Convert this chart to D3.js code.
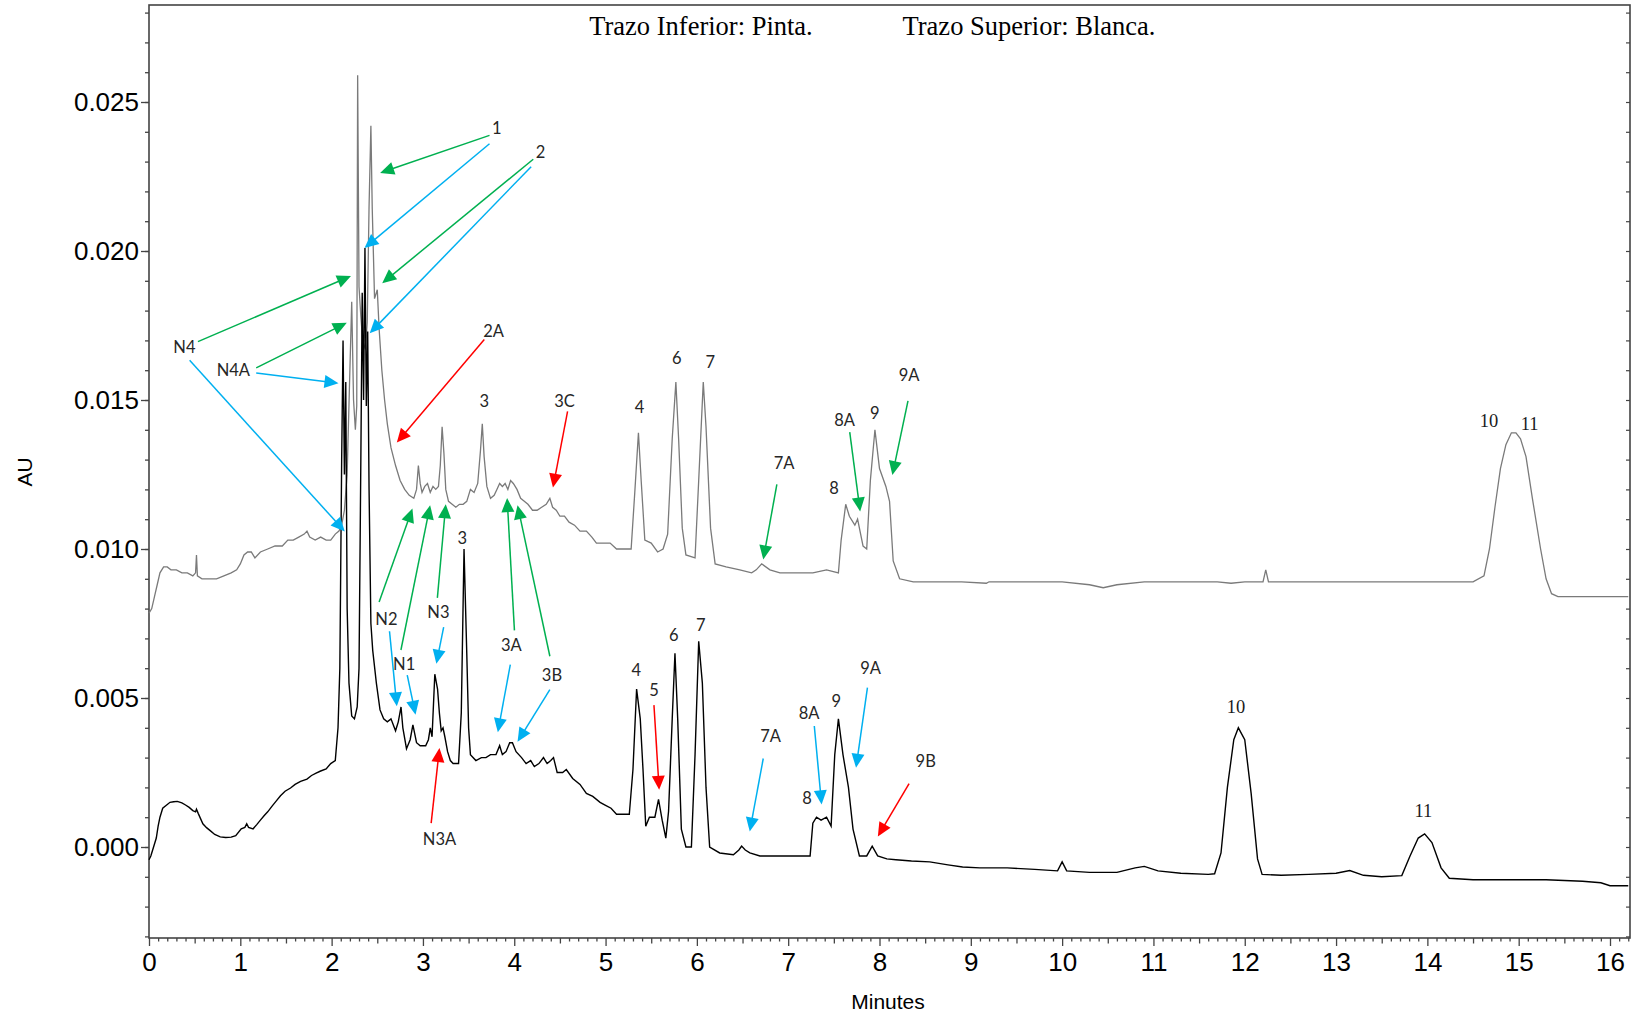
<!DOCTYPE html>
<html>
<head>
<meta charset="utf-8">
<script src="https://cdn.jsdelivr.net/npm/d3@7"></script>
<style>
  html, body { margin: 0; padding: 0; background: #fff; }
  svg { display: block; }
</style>
</head>
<body>
<svg id="chart" width="1633" height="1014"></svg>
<script>
// Upper trace (Blanca): [minutes, AU]
const blancaTrace = [
  [0.00,0.00785],[0.03,0.0080],[0.06,0.0084],[0.09,0.0088],[0.12,0.0092],[0.16,0.0094],[0.20,0.0094],
  [0.24,0.0093],[0.30,0.0093],[0.36,0.0092],[0.42,0.0092],[0.48,0.0091],[0.51,0.0092],[0.52,0.0098],
  [0.53,0.0091],[0.58,0.0090],[0.66,0.0090],[0.74,0.0090],[0.82,0.0091],[0.90,0.0092],[0.96,0.0093],
  [1.00,0.0095],[1.04,0.0098],[1.08,0.0099],[1.12,0.0099],[1.16,0.0097],[1.22,0.0099],[1.30,0.0100],
  [1.38,0.0101],[1.46,0.0101],[1.52,0.0103],[1.58,0.0103],[1.64,0.0104],[1.70,0.0105],[1.73,0.0106],
  [1.76,0.0104],[1.82,0.0103],[1.88,0.0104],[1.94,0.0103],[1.99,0.0103],[2.04,0.0105],[2.08,0.0106],
  [2.11,0.0108],[2.14,0.0113],[2.17,0.0125],[2.20,0.0160],[2.22,0.0183],[2.24,0.0150],[2.26,0.0140],
  [2.275,0.0148],[2.285,0.0259],[2.30,0.0188],[2.32,0.0178],[2.34,0.0170],[2.37,0.0167],[2.39,0.0176],
  [2.41,0.0215],[2.43,0.0242],[2.445,0.0214],[2.47,0.0184],[2.50,0.0187],[2.52,0.0174],[2.55,0.0160],
  [2.58,0.0150],[2.61,0.0142],[2.65,0.0134],[2.70,0.0128],[2.75,0.0123],[2.80,0.0120],[2.85,0.0118],
  [2.90,0.0117],[2.93,0.0120],[2.95,0.0128],[2.97,0.0122],[2.99,0.0119],[3.02,0.0121],[3.05,0.0122],
  [3.08,0.0119],[3.11,0.0121],[3.14,0.0120],[3.17,0.0121],[3.19,0.0128],[3.21,0.0141],[3.23,0.0132],
  [3.25,0.0120],[3.28,0.0116],[3.32,0.0115],[3.36,0.0114],[3.40,0.0115],[3.44,0.0115],[3.48,0.0116],
  [3.52,0.0120],[3.56,0.0119],[3.60,0.0122],[3.63,0.0133],[3.65,0.0142],[3.67,0.0131],[3.70,0.0121],
  [3.74,0.0117],[3.78,0.0118],[3.81,0.0120],[3.84,0.0122],[3.87,0.0121],[3.90,0.0122],[3.93,0.0120],
  [3.96,0.0123],[3.99,0.0122],[4.03,0.0120],[4.07,0.0117],[4.11,0.0116],[4.15,0.0115],[4.20,0.0113],
  [4.25,0.0113],[4.30,0.0114],[4.35,0.0115],[4.39,0.0117],[4.42,0.0114],[4.46,0.0113],[4.50,0.0111],
  [4.55,0.0111],[4.60,0.0109],[4.66,0.0108],[4.72,0.0106],[4.79,0.0106],[4.85,0.0104],[4.90,0.0102],
  [4.98,0.0102],[5.05,0.0102],[5.12,0.0100],[5.20,0.0100],[5.28,0.0100],[5.32,0.0119],[5.36,0.0139],
  [5.39,0.0123],[5.43,0.0103],[5.50,0.0102],[5.57,0.0099],[5.63,0.0100],[5.68,0.0105],[5.73,0.0137],
  [5.77,0.0156],[5.80,0.0137],[5.84,0.0107],[5.88,0.0098],[5.98,0.0097],[6.02,0.0123],[6.07,0.0156],
  [6.10,0.0141],[6.15,0.0107],[6.20,0.0095],[6.32,0.0094],[6.47,0.0093],[6.60,0.0092],[6.65,0.0093],
  [6.71,0.0095],[6.80,0.0093],[6.91,0.0092],[7.09,0.0092],[7.27,0.0092],[7.42,0.0093],[7.55,0.0092],
  [7.58,0.0103],[7.63,0.0115],[7.67,0.0111],[7.73,0.0108],[7.76,0.0110],[7.82,0.0101],[7.86,0.0100],
  [7.90,0.0123],[7.95,0.0140],[8.00,0.0127],[8.07,0.0121],[8.11,0.0116],[8.15,0.0096],[8.22,0.0090],
  [8.37,0.0089],[8.60,0.0089],[8.90,0.0089],[9.17,0.00885],[9.20,0.0089],[9.60,0.0089],[10.00,0.0089],
  [10.30,0.0088],[10.45,0.0087],[10.60,0.0088],[10.90,0.0089],[11.30,0.0089],[11.70,0.0089],[11.85,0.00885],
  [12.00,0.0089],[12.20,0.0089],[12.23,0.0093],[12.26,0.0089],[12.50,0.0089],[12.90,0.0089],[13.30,0.0089],
  [13.70,0.0089],[14.00,0.0089],[14.30,0.0089],[14.50,0.0089],[14.62,0.0091],[14.68,0.0100],[14.74,0.0114],
  [14.80,0.0127],[14.86,0.0135],[14.92,0.0139],[14.97,0.0139],[15.02,0.0137],[15.08,0.0131],[15.15,0.0117],
  [15.24,0.0100],[15.30,0.0090],[15.36,0.0085],[15.43,0.0084],[15.60,0.0084],[15.80,0.0084],[16.00,0.0084],
  [16.20,0.0084]
];

// Lower trace (Pinta): [minutes, AU]
const pintaTrace = [
  [0.00,-0.00043],[0.02,-0.0003],[0.04,-0.0001],[0.06,0.0001],[0.08,0.0003],[0.10,0.0007],[0.12,0.0010],
  [0.15,0.0013],[0.19,0.0014],[0.23,0.0015],[0.27,0.00152],[0.31,0.00153],[0.36,0.00148],[0.40,0.00141],
  [0.44,0.00133],[0.48,0.00122],[0.51,0.00118],[0.52,0.00127],[0.54,0.00112],[0.59,0.00078],[0.63,0.00065],
  [0.67,0.00055],[0.72,0.00042],[0.78,0.00034],[0.84,0.00032],[0.90,0.00033],[0.95,0.00038],[1.01,0.00061],
  [1.05,0.00066],[1.07,0.00078],[1.09,0.00066],[1.14,0.00061],[1.18,0.00075],[1.22,0.0009],[1.26,0.00105],
  [1.30,0.00118],[1.35,0.00138],[1.39,0.00153],[1.44,0.00172],[1.49,0.00187],[1.55,0.00198],[1.60,0.0021],
  [1.66,0.0022],[1.73,0.00228],[1.78,0.0024],[1.83,0.00248],[1.88,0.00255],[1.94,0.00262],[1.99,0.0028],
  [2.04,0.0029],[2.07,0.0040],[2.09,0.0060],[2.11,0.0130],[2.125,0.0170],[2.14,0.0125],[2.155,0.0156],
  [2.17,0.0080],[2.19,0.0055],[2.22,0.0044],[2.25,0.0043],[2.28,0.0047],[2.30,0.0060],[2.32,0.0130],
  [2.335,0.0186],[2.35,0.0150],[2.365,0.0201],[2.38,0.0148],[2.395,0.0173],[2.41,0.0120],[2.43,0.0075],
  [2.45,0.0066],[2.49,0.0055],[2.53,0.0046],[2.57,0.0043],[2.61,0.0042],[2.65,0.0043],[2.70,0.0039],
  [2.73,0.0042],[2.76,0.0047],[2.78,0.0040],[2.82,0.0033],[2.86,0.0036],[2.89,0.0041],[2.93,0.0035],
  [2.97,0.0034],[3.03,0.0034],[3.06,0.0036],[3.08,0.0040],[3.10,0.0037],[3.13,0.0058],[3.16,0.0053],
  [3.18,0.0045],[3.20,0.0039],[3.22,0.0040],[3.24,0.0037],[3.27,0.0032],[3.30,0.0029],[3.33,0.0028],
  [3.39,0.0028],[3.42,0.0045],[3.45,0.0100],[3.48,0.0065],[3.50,0.0040],[3.52,0.0031],[3.58,0.0029],
  [3.64,0.0030],[3.69,0.0030],[3.74,0.0031],[3.80,0.0031],[3.84,0.0034],[3.87,0.0031],[3.91,0.0032],
  [3.95,0.0035],[3.98,0.0035],[4.02,0.0032],[4.08,0.0030],[4.13,0.0028],[4.18,0.0029],[4.22,0.0027],
  [4.27,0.0028],[4.32,0.0030],[4.36,0.0028],[4.40,0.0029],[4.43,0.0030],[4.47,0.0025],[4.53,0.0025],
  [4.57,0.0026],[4.64,0.0023],[4.72,0.0021],[4.79,0.0018],[4.86,0.0017],[4.94,0.0015],[5.00,0.0014],
  [5.06,0.0013],[5.12,0.0011],[5.20,0.0011],[5.26,0.0011],[5.30,0.0026],[5.34,0.0053],[5.38,0.0043],
  [5.41,0.0026],[5.44,0.0007],[5.48,0.0010],[5.54,0.0010],[5.58,0.0016],[5.62,0.0009],[5.66,0.0003],
  [5.69,0.0012],[5.73,0.0043],[5.76,0.0065],[5.79,0.0043],[5.83,0.0006],[5.88,0.0000],[5.94,0.0000],
  [5.98,0.0031],[6.02,0.0069],[6.06,0.0055],[6.10,0.0020],[6.14,0.0000],[6.25,-0.0002],[6.40,-0.00026],
  [6.46,-0.0001],[6.49,0.00003],[6.53,-0.0001],[6.58,-0.0002],[6.69,-0.0003],[6.80,-0.0003],[6.91,-0.0003],
  [7.05,-0.0003],[7.15,-0.0003],[7.24,-0.0003],[7.27,0.0008],[7.31,0.0010],[7.36,0.0009],[7.42,0.0010],
  [7.47,0.0007],[7.51,0.0031],[7.55,0.0043],[7.60,0.0031],[7.66,0.0020],[7.71,0.0006],[7.78,-0.0003],
  [7.86,-0.0003],[7.92,0.00003],[7.98,-0.0003],[8.08,-0.0004],[8.18,-0.00043],[8.35,-0.00047],[8.55,-0.0005],
  [8.75,-0.0006],[8.91,-0.00067],[9.10,-0.0007],[9.40,-0.0007],[9.70,-0.00075],[9.95,-0.0008],[10.00,-0.0005],
  [10.05,-0.0008],[10.30,-0.00085],[10.60,-0.00085],[10.80,-0.0007],[10.90,-0.00065],[11.05,-0.0008],
  [11.30,-0.00088],[11.60,-0.00092],[11.67,-0.0009],[11.74,-0.0002],[11.81,0.0020],[11.88,0.0036],
  [11.93,0.0040],[12.00,0.0036],[12.07,0.0018],[12.14,-0.0004],[12.19,-0.00092],[12.40,-0.00095],
  [12.70,-0.00092],[13.00,-0.00088],[13.15,-0.00079],[13.30,-0.00095],[13.50,-0.0010],[13.72,-0.00096],
  [13.81,-0.0003],[13.90,0.0003],[13.97,0.00044],[14.05,0.00015],[14.15,-0.0007],[14.24,-0.00105],
  [14.50,-0.0011],[14.90,-0.0011],[15.30,-0.0011],[15.70,-0.00115],[15.90,-0.0012],[16.00,-0.0013],[16.20,-0.0013]
];

const yTickValues = [0.000, 0.005, 0.010, 0.015, 0.020, 0.025];
const xTickValues = d3.range(0, 17, 1);
const titleTexts = ["Trazo Inferior: Pinta.", "Trazo Superior: Blanca."];

// Peak labels: [text, minutes, AU]
const peakLabels = [
  ["1", 3.808, 0.02413], ["2", 4.287, 0.02332], ["N4", 0.388, 0.01678], ["N4A", 0.924, 0.01601],
  ["2A", 3.774, 0.01731], ["3", 3.672, 0.01497], ["3C", 4.550, 0.01497], ["4", 5.371, 0.01476],
  ["6", 5.781, 0.01640], ["7", 6.146, 0.01629], ["7A", 6.956, 0.01290], ["8A", 7.617, 0.01434],
  ["8", 7.503, 0.01206], ["9", 7.948, 0.01455], ["9A", 8.324, 0.01584],
  ["3", 3.432, 0.01038], ["N2", 2.600, 0.00766], ["N1", 2.794, 0.00615], ["N3", 3.170, 0.00787],
  ["N3A", 3.181, 0.00028], ["3A", 3.968, 0.00678], ["3B", 4.413, 0.00577], ["4", 5.336, 0.00594],
  ["5", 5.530, 0.00528], ["6", 5.747, 0.00713], ["7", 6.043, 0.00745], ["7A", 6.807, 0.00371],
  ["8A", 7.229, 0.00451], ["8", 7.206, 0.00164], ["9", 7.526, 0.00490], ["9A", 7.902, 0.00601],
  ["9B", 8.506, 0.00287]
];
// Serif peak labels (10, 11)
const serifLabels = [
  ["10", 14.675, 0.01430], ["11", 15.120, 0.01420], ["10", 11.904, 0.00469], ["11", 13.957, 0.00122]
];

// Arrows: [colour key, fromMin, fromAU, toMin, toAU]
const arrows = [
  ["g", 3.729, 0.02388, 2.531, 0.02262], ["c", 3.729, 0.02360, 2.360, 0.02010],
  ["g", 4.208, 0.02308, 2.554, 0.01892], ["c", 4.185, 0.02283, 2.417, 0.01724],
  ["g", 0.536, 0.01696, 2.212, 0.01916], ["c", 0.445, 0.01633, 2.144, 0.01059],
  ["g", 1.174, 0.01608, 2.166, 0.01759], ["c", 1.174, 0.01591, 2.075, 0.01556],
  ["r", 3.672, 0.01703, 2.714, 0.01357],
  ["r", 4.584, 0.01462, 4.424, 0.01206],
  ["g", 6.876, 0.01217, 6.727, 0.00965],
  ["g", 7.674, 0.01392, 7.788, 0.01126],
  ["g", 8.312, 0.01497, 8.141, 0.01248],
  ["g", 2.520, 0.00822, 2.885, 0.01136], ["c", 2.634, 0.00724, 2.714, 0.00472],
  ["g", 2.759, 0.00661, 3.079, 0.01147], ["c", 2.828, 0.00577, 2.919, 0.00444],
  ["g", 3.158, 0.00836, 3.250, 0.01150], ["c", 3.227, 0.00738, 3.147, 0.00615],
  ["r", 3.090, 0.00080, 3.181, 0.00332],
  ["g", 4.002, 0.00727, 3.922, 0.01171], ["c", 3.957, 0.00612, 3.820, 0.00385],
  ["g", 4.390, 0.00640, 4.036, 0.01147], ["c", 4.390, 0.00528, 4.036, 0.00353],
  ["r", 5.530, 0.00476, 5.587, 0.00192],
  ["c", 6.727, 0.00297, 6.579, 0.00052],
  ["c", 7.286, 0.00406, 7.366, 0.00143],
  ["c", 7.868, 0.00535, 7.743, 0.00266],
  ["r", 8.324, 0.00213, 7.982, 0.00035]
];

const arrowColours = { g: "#00b050", c: "#00b0f0", r: "#ff0000" };

const svg = d3.select("#chart");
const plotLeft = 149, plotRight = 1630, plotTop = 5, plotBottom = 938;

const x = d3.scaleLinear().domain([0, 16]).range([149, 1610]);
const y = d3.scaleLinear().domain([0, 0.025]).range([847, 102]);

const xMax = x.invert(plotRight);
const yMin = y.invert(plotBottom);
const yMax = y.invert(plotTop);

// Frame
svg.append("rect")
  .attr("x", plotLeft).attr("y", plotTop)
  .attr("width", plotRight - plotLeft).attr("height", plotBottom - plotTop)
  .attr("fill", "none").attr("stroke", "#444").attr("stroke-width", 1.6);

// Y axis: minor ticks every 0.001, labelled ticks every 0.005
const yMinor = d3.range(Math.ceil(yMin * 1000), Math.floor(yMax * 1000) + 1).map(v => v / 1000);
const yAxisG = svg.append("g").attr("transform", `translate(${plotLeft},0)`);
yAxisG.call(d3.axisLeft(y).tickValues(yMinor).tickSize(4).tickFormat(""))
  .call(g => g.select(".domain").remove());
yAxisG.append("g").call(d3.axisLeft(y).tickValues(yTickValues).tickSize(8).tickPadding(2).tickFormat(d3.format(".3f")))
  .call(g => g.select(".domain").remove())
  .call(g => g.selectAll("text").attr("font-family", "Liberation Sans, Arial, sans-serif")
    .attr("font-size", 26).attr("fill", "#000"));
yAxisG.selectAll("line").attr("stroke", "#444").attr("stroke-width", 1.3);

// Inward ticks on the right border
const rightG = svg.append("g").attr("transform", `translate(${plotRight},0)`);
rightG.call(d3.axisLeft(y).tickValues(yMinor).tickSize(4).tickFormat(""))
  .call(g => g.select(".domain").remove());
rightG.selectAll("line").attr("stroke", "#444").attr("stroke-width", 1.2);

// X axis: integer, half and tenth minute ticks
const xMinor = d3.range(0, Math.floor(xMax * 10) + 1).map(v => v / 10);
const isHalf = v => Math.abs(v * 2 - Math.round(v * 2)) < 1e-6;
const isWhole = v => Math.abs(v - Math.round(v)) < 1e-6;
const xAxisG = svg.append("g").attr("transform", `translate(0,${plotBottom})`);
xAxisG.append("g").call(d3.axisBottom(x).tickValues(xMinor.filter(v => !isHalf(v))).tickSize(3.5).tickFormat(""))
  .call(g => g.select(".domain").remove());
xAxisG.append("g").call(d3.axisBottom(x).tickValues(xMinor.filter(v => isHalf(v) && !isWhole(v))).tickSize(5.5).tickFormat(""))
  .call(g => g.select(".domain").remove());
xAxisG.append("g").call(d3.axisBottom(x).tickValues(xTickValues).tickSize(8).tickPadding(7).tickFormat(d3.format("d")))
  .call(g => g.select(".domain").remove())
  .call(g => g.selectAll("text").attr("font-family", "Liberation Sans, Arial, sans-serif")
    .attr("font-size", 26).attr("fill", "#000"));
xAxisG.selectAll("line").attr("stroke", "#444").attr("stroke-width", 1.3);

// Axis titles
svg.append("text").attr("x", 888).attr("y", 1001)
  .attr("text-anchor", "middle").attr("dominant-baseline", "central")
  .attr("font-family", "Liberation Sans, Arial, sans-serif").attr("font-size", 21).text("Minutes");
svg.append("text").attr("transform", "translate(24,472) rotate(-90)")
  .attr("text-anchor", "middle").attr("dominant-baseline", "central")
  .attr("font-family", "Liberation Sans, Arial, sans-serif").attr("font-size", 21).text("AU");

// Title line
svg.append("text").attr("x", 701).attr("y", 26)
  .attr("text-anchor", "middle").attr("dominant-baseline", "central")
  .attr("font-family", "Liberation Serif, Times New Roman, serif").attr("font-size", 26.5).text(titleTexts[0]);
svg.append("text").attr("x", 1029).attr("y", 26)
  .attr("text-anchor", "middle").attr("dominant-baseline", "central")
  .attr("font-family", "Liberation Serif, Times New Roman, serif").attr("font-size", 26.5).text(titleTexts[1]);

// Traces
const line = d3.line().x(d => x(d[0])).y(d => y(d[1]));
svg.append("path").datum(blancaTrace).attr("d", line)
  .attr("fill", "none").attr("stroke", "#7a7a7a").attr("stroke-width", 1.3).attr("stroke-linejoin", "miter");
svg.append("path").datum(pintaTrace).attr("d", line)
  .attr("fill", "none").attr("stroke", "#000").attr("stroke-width", 1.4).attr("stroke-linejoin", "miter");

// Arrows with filled heads
const arrowG = svg.append("g");
arrows.forEach(([k, t0, a0, t1, a1]) => {
  const x0 = x(t0), y0 = y(a0), x1 = x(t1), y1 = y(a1);
  const dx = x1 - x0, dy = y1 - y0, len = Math.hypot(dx, dy);
  const ux = dx / len, uy = dy / len;
  const headLen = 14, headHalf = 6.5;
  const bx = x1 - ux * headLen, by = y1 - uy * headLen;
  const col = arrowColours[k];
  arrowG.append("line").attr("x1", x0).attr("y1", y0).attr("x2", bx + ux * 2).attr("y2", by + uy * 2)
    .attr("stroke", col).attr("stroke-width", 1.5);
  arrowG.append("path")
    .attr("d", `M${x1},${y1}L${bx - uy * headHalf},${by + ux * headHalf}L${bx + uy * headHalf},${by - ux * headHalf}Z`)
    .attr("fill", col);
});

// Peak labels
svg.append("g").selectAll("text").data(peakLabels).join("text")
  .attr("x", d => x(d[1])).attr("y", d => y(d[2]))
  .attr("text-anchor", "middle").attr("dominant-baseline", "central")
  .attr("font-family", "Lato, Open Sans, sans-serif").attr("font-size", 16.5)
  .attr("fill", "#262626").text(d => d[0]);
svg.append("g").selectAll("text").data(serifLabels).join("text")
  .attr("x", d => x(d[1])).attr("y", d => y(d[2]))
  .attr("text-anchor", "middle").attr("dominant-baseline", "central")
  .attr("font-family", "Liberation Serif, Times New Roman, serif").attr("font-size", 18.5)
  .attr("fill", "#1a1a1a").text(d => d[0]);
</script>
</body>
</html>
